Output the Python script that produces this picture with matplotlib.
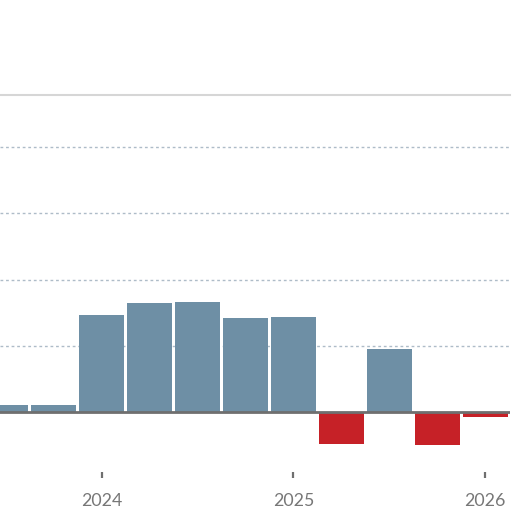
import matplotlib.pyplot as plt

# quarterly change, one bar per quarter
quarters = ["2023Q3", "2023Q4", "2024Q1", "2024Q2", "2024Q3", "2024Q4",
            "2025Q1", "2025Q2", "2025Q3", "2025Q4", "2026Q1"]
values = [0.053, 0.055, 0.733, 0.826, 0.831, 0.708, 0.72, -0.244, 0.474, -0.249, -0.035]
year_ticks = [2024, 2025, 2026]
grid_levels = [0.5, 1.0, 1.5, 2.0]

# quarter label -> decimal year (Q1 sits on the year tick)
x = [int(q[:4]) + (int(q[-1]) - 1) / 4 for q in quarters]
colors = ["#6e8fa5" if v >= 0 else "#c62127" for v in values]

fig = plt.figure(figsize=(5.24, 5.24), dpi=100, facecolor="w")
ax = fig.add_axes([0, 52 / 524, 510 / 524, 377 / 524])

for g in grid_levels:
    ax.axhline(g, color="#aebcc8", lw=1, ls=(0, (2, 2)), zorder=0)

ax.bar(x, values, width=0.25 * 0.94, color=colors, zorder=2)
ax.axhline(0, color="#6f6f6f", lw=2, zorder=3)

ax.set_xlim(2023.469, 2026.13)
ax.set_ylim(-0.453, 2.394)

for s in ["left", "right", "bottom"]:
    ax.spines[s].set_visible(False)
ax.spines["top"].set_color("#d6d6d6")
ax.spines["top"].set_linewidth(1.5)

ax.set_yticks([])
ax.set_xticks(year_ticks)
ax.set_xticklabels([str(y) for y in year_ticks], fontfamily="Lato", fontsize=12.8, color="#777777")
ax.tick_params(axis="x", direction="out", length=4.5, width=1.6, color="#6f6f6f", pad=10.5)

fig.savefig("out.png", dpi=100, facecolor="w")
